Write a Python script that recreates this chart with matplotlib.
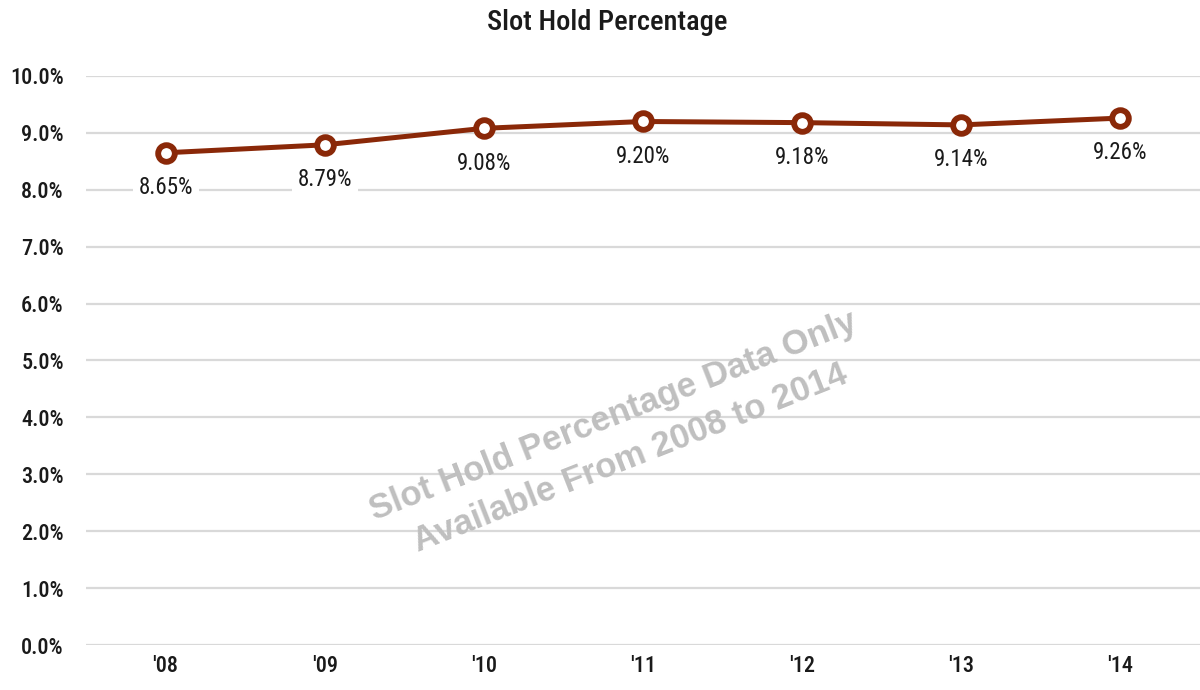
import matplotlib
matplotlib.use("Agg")
import matplotlib.pyplot as plt
from matplotlib import font_manager

years = ["'08", "'09", "'10", "'11", "'12", "'13", "'14"]
hold_pct = [8.65, 8.79, 9.08, 9.20, 9.18, 9.14, 9.26]
y_ticks = [0, 1, 2, 3, 4, 5, 6, 7, 8, 9, 10]

# pick a narrow face for the chart text
names = {f.name for f in font_manager.fontManager.ttflist}
if "Roboto Condensed" in names:
    narrow = "Roboto Condensed"
elif "Liberation Sans Narrow" in names:
    narrow = "Liberation Sans Narrow"
else:
    narrow = "Roboto"
plt.rcParams["font.family"] = [narrow, "DejaVu Sans"]

line_col = "#8A2808"
text_col = "#1a1a1a"

fig = plt.figure(figsize=(12, 6.9), dpi=100)
ax = fig.add_axes([0.0717, 0.0652, 0.9283, 0.8247])

xs = list(range(len(years)))
ax.plot(xs, hold_pct, color=line_col, lw=3.6, marker="o", ms=12,
        mfc="white", mec=line_col, mew=4.2, zorder=3)

for x, v in zip(xs, hold_pct):
    ax.annotate(f"{v:.2f}%", (x, v), xytext=(0, -25), textcoords="offset points",
                ha="center", va="center", fontsize=16.5, color=text_col,
                bbox=dict(boxstyle="square,pad=0.25", fc="white", ec="none"),
                zorder=4)

ax.set_xlim(-0.5, len(years) - 0.5)
ax.set_ylim(0, 10)
ax.set_xticks(xs)
ax.set_xticklabels(years)
ax.set_yticks(y_ticks)
ax.set_yticklabels([f"{t:.1f}%" for t in y_ticks])
ax.tick_params(axis="y", length=0, labelsize=16, colors=text_col, pad=16)
ax.tick_params(axis="x", length=0, labelsize=16, colors=text_col, pad=7)
for lbl in ax.get_xticklabels() + ax.get_yticklabels():
    lbl.set_fontweight("medium")
ax.yaxis.grid(True, color="#d9d9d9", lw=1.6)
ax.set_axisbelow(True)
for s in ax.spines.values():
    s.set_visible(False)

fig.text(0.506, 0.968, "Slot Hold Percentage", ha="center", va="center",
         fontsize=20.5, fontweight="medium", color=text_col)

# note about data coverage, drawn across the plot
ax.text(0.481, 0.365, "Slot Hold Percentage Data Only\nAvailable From 2008 to 2014",
        transform=ax.transAxes, ha="center", va="center", rotation=21.5,
        fontsize=25, fontweight="bold", color="#bfbfbf",
        family="Liberation Sans", linespacing=1.45, zorder=1)

fig.savefig("out.png", dpi=100)
